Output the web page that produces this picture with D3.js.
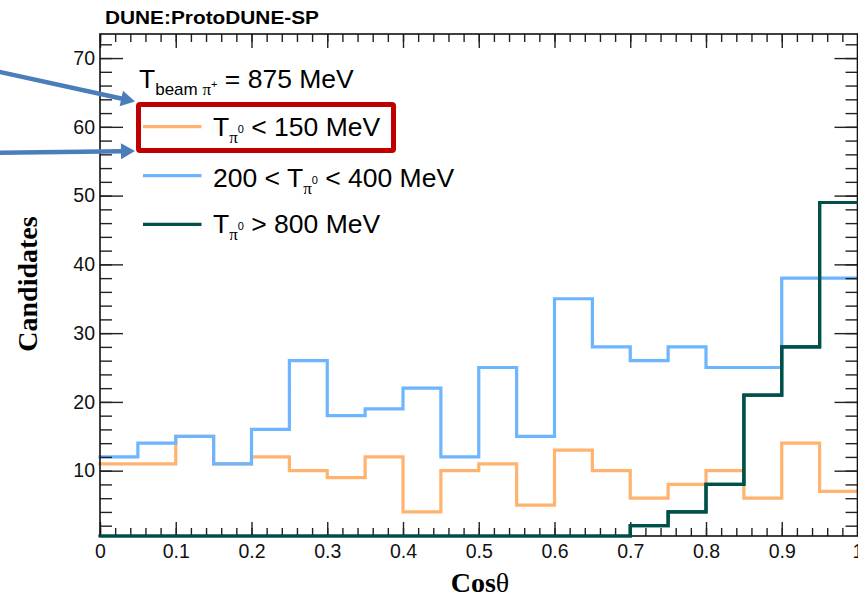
<!DOCTYPE html>
<html>
<head>
<meta charset="utf-8">
<script src="https://cdn.jsdelivr.net/npm/d3@7"></script>
<style>
html,body{margin:0;padding:0;background:#fff;}
svg{display:block;}
</style>
</head>
<body>
<svg id="chart" width="858" height="598"></svg>
<script>
// ---- data ----
const binLow = [0, 0.05, 0.1, 0.15, 0.2, 0.25, 0.3, 0.35, 0.4, 0.45, 0.5, 0.55, 0.6, 0.65, 0.7, 0.75, 0.8, 0.85, 0.9, 0.95];
const binHighEdge = 1;
const lowT   = [11, 11, 15, 11, 12, 10, 9, 12, 4, 10, 11, 5, 13, 10, 6, 8, 10, 6, 14, 7];
const midT   = [12, 14, 15, 11, 16, 26, 18, 19, 22, 12, 25, 15, 35, 28, 26, 28, 25, 25, 38, 38];
const highT  = [0, 0, 0, 0, 0, 0, 0, 0, 0, 0, 0, 0, 0, 0, 2, 4, 8, 21, 28, 49];
const xTickValues = [0, 0.1, 0.2, 0.3, 0.4, 0.5, 0.6, 0.7, 0.8, 0.9, 1];
const xTickLabels = ["0", "0.1", "0.2", "0.3", "0.4", "0.5", "0.6", "0.7", "0.8", "0.9", "1"];
const yTickValues = [10, 20, 30, 40, 50, 60, 70];
const yTickLabels = ["10", "20", "30", "40", "50", "60", "70"];
const yDomain = [0.5, 73.5];
const xDomain = [0, 1];

const series = [
  {name: "low",  values: lowT,  color: "#ffb36f"},
  {name: "mid",  values: midT,  color: "#6db5ff"},
  {name: "high", values: highT, color: "#00504a"}
];

// ---- layout ----
const svg = d3.select("#chart");
const L = 100, R = 857.5, T = 34, B = 536;
const x = d3.scaleLinear().domain(xDomain).range([L, R]);
const y = d3.scaleLinear().domain(yDomain).range([B, T]);
const sans = "'Liberation Sans', Arial, Helvetica, sans-serif";
const serif = "'Liberation Serif', 'Times New Roman', serif";

// title
svg.append("text").attr("x", 105).attr("y", 23.5)
  .attr("font-family", sans).attr("font-weight", "bold").attr("font-size", 18.5)
  .attr("textLength", 214).attr("lengthAdjust", "spacingAndGlyphs")
  .text("DUNE:ProtoDUNE-SP");

// histograms
const line = d3.line().curve(d3.curveStepAfter)
  .x(d => x(d[0])).y(d => y(Math.max(d[1], yDomain[0])));
series.forEach(s => {
  const pts = binLow.map((b, i) => [b, s.values[i]]);
  pts.push([binHighEdge, s.values[s.values.length - 1]]);
  svg.append("path").datum(pts).attr("d", line)
    .attr("fill", "none").attr("stroke", s.color).attr("stroke-width", 3.2)
    .attr("stroke-linejoin", "miter").attr("stroke-linecap", "square");
});

// axes
function styleAxis(g) {
  g.select(".domain").remove();
  g.selectAll(".tick line").attr("stroke", "#222").attr("stroke-width", 1.4);
  g.selectAll(".tick text").attr("font-family", sans).attr("font-size", 19.5).attr("fill", "#111");
}
const xMinor = x.ticks(50);
const yMinor = y.ticks(36);

svg.append("g").attr("transform", `translate(0,${B})`)
  .call(d3.axisBottom(x).tickValues(xMinor).tickSize(-8).tickFormat(""))
  .call(styleAxis);
svg.append("g").attr("transform", `translate(0,${B})`)
  .call(d3.axisBottom(x).tickValues(xTickValues).tickSize(-14).tickPadding(8)
    .tickFormat((d, i) => xTickLabels[i]))
  .call(styleAxis);
svg.append("g").attr("transform", `translate(0,${T})`)
  .call(d3.axisTop(x).tickValues(xMinor).tickSize(-8).tickFormat(""))
  .call(styleAxis);
svg.append("g").attr("transform", `translate(0,${T})`)
  .call(d3.axisTop(x).tickValues(xTickValues).tickSize(-14).tickFormat(""))
  .call(styleAxis);

svg.append("g").attr("transform", `translate(${L},0)`)
  .call(d3.axisLeft(y).tickValues(yMinor).tickSize(-12).tickFormat(""))
  .call(styleAxis);
svg.append("g").attr("transform", `translate(${L},0)`)
  .call(d3.axisLeft(y).tickValues(yTickValues).tickSize(-23).tickPadding(5)
    .tickFormat((d, i) => yTickLabels[i]))
  .call(styleAxis);
svg.append("g").attr("transform", `translate(${R},0)`)
  .call(d3.axisRight(y).tickValues(yMinor).tickSize(-12).tickFormat(""))
  .call(styleAxis);
svg.append("g").attr("transform", `translate(${R},0)`)
  .call(d3.axisRight(y).tickValues(yTickValues).tickSize(-23).tickFormat(""))
  .call(styleAxis);

// frame
svg.append("rect").attr("x", L).attr("y", T).attr("width", R - L).attr("height", B - T)
  .attr("fill", "none").attr("stroke", "#111").attr("stroke-width", 1.6);

// redraw the dark histogram on top of the frame bottom (zero bins sit on the axis)
{
  const s = series[2];
  const pts = binLow.map((b, i) => [b, s.values[i]]);
  pts.push([binHighEdge, s.values[s.values.length - 1]]);
  svg.append("path").datum(pts).attr("d", line)
    .attr("fill", "none").attr("stroke", s.color).attr("stroke-width", 3.2);
}

// axis titles
svg.append("text").attr("transform", "translate(37,284) rotate(-90)")
  .attr("text-anchor", "middle").attr("font-family", serif).attr("font-weight", "bold")
  .attr("font-size", 28).text("Candidates");
const xt = svg.append("text").attr("x", 480).attr("y", 592).attr("text-anchor", "middle")
  .attr("font-family", serif).attr("font-size", 28);
xt.append("tspan").attr("font-weight", "bold").text("Cos");
xt.append("tspan").attr("font-weight", "normal").text("θ");

// legend
const legFont = 26.5;
const hdr = svg.append("text").attr("x", 139).attr("y", 88.3)
  .attr("font-family", sans).attr("font-size", legFont);
hdr.append("tspan").text("T");
hdr.append("tspan").attr("dy", 6.7).attr("font-size", 17).text("beam ");
hdr.append("tspan").attr("font-size", 17).attr("font-family", serif).text("π");
hdr.append("tspan").attr("dy", -7).attr("font-size", 11).text("+");
hdr.append("tspan").attr("dy", 0.3).attr("font-size", legFont).text(" = 875 MeV");

const entries = [
  {s: 0, ly: 126.7, ty: 136, pre: "", post: " < 150 MeV"},
  {s: 1, ly: 175.7, ty: 186.5, pre: "200 < ", post: " < 400 MeV"},
  {s: 2, ly: 224.3, ty: 233.3, pre: "", post: " > 800 MeV"}
];
entries.forEach(e => {
  svg.append("line").attr("x1", 143).attr("x2", 201.5).attr("y1", e.ly).attr("y2", e.ly)
    .attr("stroke", series[e.s].color).attr("stroke-width", 3.2);
  const t = svg.append("text").attr("x", 213).attr("y", e.ty)
    .attr("font-family", sans).attr("font-size", legFont);
  if (e.pre) t.append("tspan").text(e.pre);
  t.append("tspan").text("T");
  t.append("tspan").attr("dy", 7).attr("font-size", 17).attr("font-family", serif).text("π");
  t.append("tspan").attr("dy", -10).attr("font-size", 11).text("0");
  t.append("tspan").attr("dy", 3).attr("font-size", legFont).text(e.post);
});

// highlight box
svg.append("rect").attr("x", 138.5).attr("y", 104.5).attr("width", 255).attr("height", 46)
  .attr("rx", 1.5).attr("fill", "none").attr("stroke", "#c00000").attr("stroke-width", 5);

// annotation arrows
function arrow(x0, y0, x1, y1) {
  const dx = x1 - x0, dy = y1 - y0, len = Math.hypot(dx, dy);
  const ux = dx / len, uy = dy / len, hl = 14, hw = 8;
  const bx = x1 - ux * hl, by = y1 - uy * hl;
  svg.append("line").attr("x1", x0).attr("y1", y0).attr("x2", bx + ux * 1).attr("y2", by + uy * 1)
    .attr("stroke", "#4a7ebb").attr("stroke-width", 4.5);
  svg.append("path")
    .attr("d", `M${x1},${y1}L${bx - uy * hw},${by + ux * hw}L${bx + uy * hw},${by - ux * hw}Z`)
    .attr("fill", "#4a7ebb");
}
arrow(-2, 71.5, 135, 101.5);
arrow(-2, 152.8, 135, 151);
</script>
</body>
</html>
